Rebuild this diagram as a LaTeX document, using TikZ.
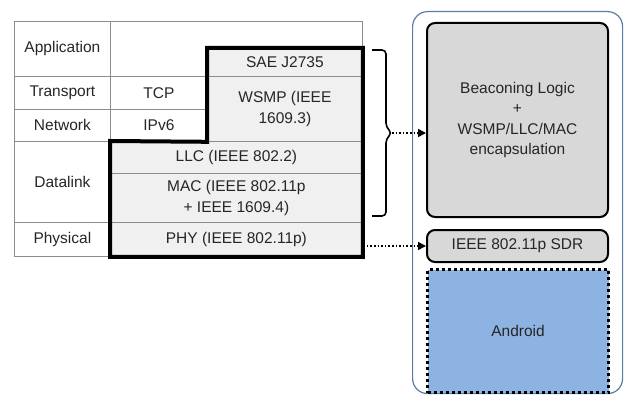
\documentclass[tikz,border=0pt]{standalone}
\usepackage{fontspec}
\setmainfont{Liberation Sans}
\usetikzlibrary{positioning,arrows.meta}

\definecolor{gridgray}{HTML}{8C8C8C}
\definecolor{layerfill}{HTML}{F0F0F0}
\definecolor{blockfill}{HTML}{D8D8D8}
\definecolor{androidblue}{HTML}{8DB3E2}
\definecolor{framblue}{HTML}{5A7DA6}

\tikzset{
	txt/.style={font=\fontsize{15.5}{20.5}\selectfont, text=black!85, align=center},
	cell/.style={txt, draw=gridgray, line width=0.8pt, inner sep=0pt, anchor=north west},
	proto/.style={cell, fill=layerfill},
	block/.style={txt, draw=black, line width=2pt, rounded corners=8pt, fill=blockfill, inner sep=0pt, anchor=north west},
	flow/.style={dotted, line width=1.6pt, -{Triangle[length=8pt,width=8pt]}},
}

\begin{document}
\begin{tikzpicture}[x=1pt, y=-1pt, line join=miter]
	\useasboundingbox (0,0) rectangle (626,398);

	% layer names
	\foreach \nm/\y/\h/\txt in {app/21/55/Application, trans/76/33/Transport, net/109/32/Network, dl/141/81/Datalink, phys/222/34/Physical}
	\node[cell, minimum width=96pt, minimum height=\h pt] (\nm) at (14,\y) {\txt};

	% protocol stack
	\node[cell, minimum width=252pt, minimum height=55pt] (appblank) at (110,21) {};
	\node[cell, minimum width=97pt, minimum height=33pt] (tcp) at (110,76) {TCP};
	\node[cell, minimum width=97pt, minimum height=32pt] (ipv6) at (110,109) {IPv6};
	\node[proto, minimum width=155pt, minimum height=28pt] (sae) at (207,48) {SAE J2735};
	\node[proto, minimum width=155pt, minimum height=65pt] (wsmp) at (207,76) {WSMP (IEEE\\1609.3)};
	\node[proto, minimum width=252pt, minimum height=32pt] (llc) at (110,141) {LLC (IEEE 802.2)};
	\node[proto, minimum width=252pt, minimum height=49pt] (mac) at (110,173) {MAC (IEEE 802.11p\\+ IEEE 1609.4)};
	\node[proto, minimum width=252pt, minimum height=34pt] (phy) at (110,222) {PHY (IEEE 802.11p)};

	% implemented part
	\draw[line width=4pt] (sae.north west) -- (sae.north east) -- (phy.south east) -- (phy.south west)
		-- (llc.north west) -- (wsmp.south west) -- cycle;

	% device
	\node[draw=framblue, line width=1.2pt, rounded corners=15pt, minimum width=210pt, minimum height=382pt, anchor=north west] (device) at (412,11) {};
	\node[block, minimum width=181pt, minimum height=194pt] (beacon) at (426,22) {Beaconing Logic\\+\\WSMP/LLC/MAC\\encapsulation};
	\node[block, minimum width=181pt, minimum height=32pt, below=11pt of beacon.south west, anchor=north west] (sdr) {IEEE 802.11p SDR};
	\node[txt, fill=androidblue, draw=black, line width=3pt, dash pattern=on 3pt off 3pt, minimum width=181pt, minimum height=123pt, inner sep=0pt, anchor=north west] (android) at (426,268) {Android};

	% brace over the upper layers
	\coordinate (tip) at (392,133);
	\draw[line width=1.6pt, rounded corners=4pt] (372,50) -- (386,50) -- (386,127) -- (tip) -- (386,139) -- (386,216) -- (372,216);

	\draw[flow] (tip) -- (tip -| beacon.west);
	\draw[flow, shorten <=4pt] (phy.east |- sdr.west) -- (sdr.west);
\end{tikzpicture}
\end{document}
